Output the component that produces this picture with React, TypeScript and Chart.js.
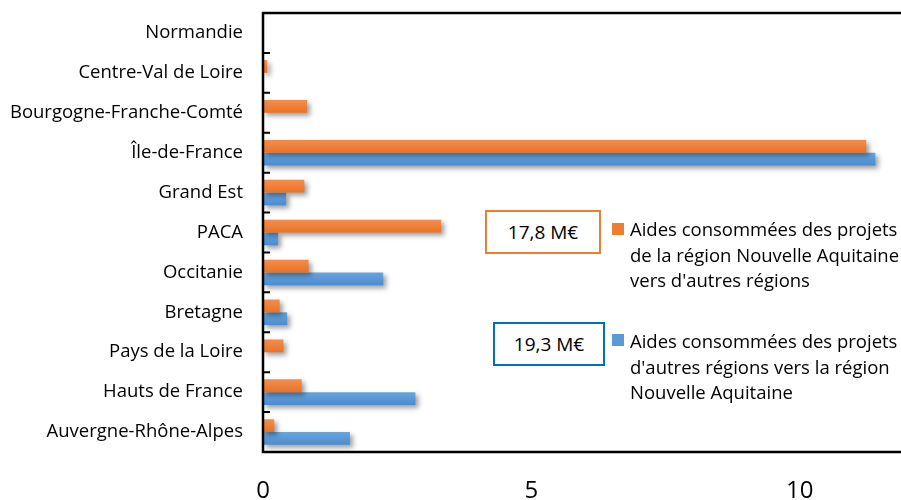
import React, { useEffect, useRef } from "react";
import { Chart, registerables } from "chart.js";

Chart.register(...registerables);

const categories = [
  "Normandie",
  "Centre-Val de Loire",
  "Bourgogne-Franche-Comté",
  "Île-de-France",
  "Grand Est",
  "PACA",
  "Occitanie",
  "Bretagne",
  "Pays de la Loire",
  "Hauts de France",
  "Auvergne-Rhône-Alpes",
];

const versAutres = [0, 0.08, 0.82, 11.24, 0.77, 3.32, 0.85, 0.31, 0.38, 0.72, 0.21];
const versNA = [0, 0, 0, 11.41, 0.43, 0.28, 2.24, 0.45, 0, 2.84, 1.62];

const seriesLabels = [
  "Aides consommées des projets de la région Nouvelle Aquitaine vers d'autres régions",
  "Aides consommées des projets d'autres régions vers la région Nouvelle Aquitaine",
];
const totals = ["17,8 M€", "19,3 M€"];
const xTicks = [0, 5, 10];

const FONT = "'Open Sans', Lato, sans-serif";
const CAT_PCT = 0.64;

function makeGradient(top: string, bottom: string) {
  return (c: any) => {
    const chart = c.chart;
    const y = chart.scales?.y;
    if (!y || c.dataIndex === undefined || !chart.chartArea) return bottom;
    const center = y.getPixelForValue(c.dataIndex);
    const band = Math.abs(y.getPixelForValue(1) - y.getPixelForValue(0));
    const thick = (band * CAT_PCT) / 2;
    const t = center - thick + c.datasetIndex * thick;
    if (!isFinite(t) || !isFinite(thick) || thick <= 0) return bottom;
    const g = chart.ctx.createLinearGradient(0, t, 0, t + thick);
    g.addColorStop(0, top);
    g.addColorStop(1, bottom);
    return g;
  };
}

const shadowPlugin = {
  id: "shadowPlugin",
  beforeDatasetsDraw(chart: any) {
    const ctx = chart.ctx;
    ctx.save();
    ctx.shadowColor = "rgba(0,0,0,0.38)";
    ctx.shadowBlur = 5;
    ctx.shadowOffsetX = 3;
    ctx.shadowOffsetY = 3;
  },
  afterDatasetsDraw(chart: any) {
    chart.ctx.restore();
  },
};

const framePlugin = {
  id: "framePlugin",
  afterDraw(chart: any) {
    const { ctx, chartArea } = chart;
    const y = chart.scales.y;
    ctx.save();
    ctx.strokeStyle = "#000";
    ctx.lineWidth = 2.5;
    ctx.beginPath();
    ctx.moveTo(chartArea.left, chartArea.top);
    ctx.lineTo(chart.width, chartArea.top);
    ctx.moveTo(chartArea.left, chartArea.bottom);
    ctx.lineTo(chart.width, chartArea.bottom);
    ctx.moveTo(chartArea.left, chartArea.top - 1.25);
    ctx.lineTo(chartArea.left, chartArea.bottom + 1.25);
    ctx.stroke();
    ctx.lineWidth = 2;
    ctx.beginPath();
    const n = categories.length;
    for (let i = 1; i < n; i++) {
      const p = (y.getPixelForValue(i - 1) + y.getPixelForValue(i)) / 2;
      ctx.moveTo(chartArea.left, p);
      ctx.lineTo(chartArea.left + 7, p);
    }
    ctx.stroke();
    ctx.restore();
  },
};

export default function App() {
  const ref = useRef<HTMLCanvasElement | null>(null);

  useEffect(() => {
    if (!ref.current) return;
    const chart = new Chart(ref.current, {
      type: "bar",
      data: {
        labels: categories,
        datasets: [
          {
            label: seriesLabels[0],
            data: versAutres,
            backgroundColor: makeGradient("#F28E4F", "#EB7224"),
            categoryPercentage: CAT_PCT,
            barPercentage: 1,
          },
          {
            label: seriesLabels[1],
            data: versNA,
            backgroundColor: makeGradient("#68A5DC", "#4A8CD2"),
            categoryPercentage: CAT_PCT,
            barPercentage: 1,
          },
        ],
      },
      options: {
        indexAxis: "y",
        responsive: false,
        animation: false,
        layout: { padding: { top: 13, right: 3, left: 0, bottom: 0 } },
        plugins: {
          legend: { display: false },
          tooltip: { enabled: false },
        },
        scales: {
          x: {
            min: 0,
            max: 12,
            grid: { display: false, drawTicks: false },
            border: { display: false },
            afterBuildTicks: (s: any) => {
              s.ticks = xTicks.map((v) => ({ value: v }));
            },
            afterFit: (s: any) => {
              s.height = 68;
              s.paddingLeft = 0;
              s.paddingRight = 0;
            },
            ticks: {
              color: "#000",
              padding: 25,
              font: { family: FONT, size: 24 },
            },
          },
          y: {
            grid: { display: false, drawTicks: false },
            border: { display: false },
            afterFit: (s: any) => {
              s.width = 263;
              s.paddingTop = 0;
              s.paddingBottom = 0;
            },
            ticks: {
              color: "#000",
              padding: 20,
              font: { family: FONT, size: 18.5 },
            },
          },
        },
      },
      plugins: [shadowPlugin, framePlugin],
    });
    return () => chart.destroy();
  }, []);

  const legendText: React.CSSProperties = {
    position: "absolute",
    left: 630,
    fontFamily: FONT,
    fontSize: 18.5,
    lineHeight: "25.5px",
    color: "#000",
    whiteSpace: "nowrap",
  };
  const box = (color: string): React.CSSProperties => ({
    position: "absolute",
    border: `2px solid ${color}`,
    boxSizing: "border-box",
    display: "flex",
    alignItems: "center",
    justifyContent: "center",
    fontFamily: FONT,
    fontSize: 19,
    color: "#000",
    background: "#fff",
  });

  return (
    <div
      style={{
        position: "fixed",
        left: 0,
        top: 0,
        width: 901,
        height: 500,
        overflow: "hidden",
        background: "#fff",
      }}
    >
      <canvas ref={ref} width={910} height={520} style={{ position: "absolute", left: 0, top: 0 }} />
      <div style={{ ...box("#ED7D31"), left: 485, top: 210, width: 116, height: 44 }}>{totals[0]}</div>
      <div style={{ ...box("#0070C0"), left: 493, top: 322, width: 112, height: 44 }}>{totals[1]}</div>
      <div style={{ position: "absolute", left: 612, top: 223, width: 12, height: 12, background: "#ED7D31" }} />
      <div style={{ position: "absolute", left: 612, top: 334, width: 12, height: 12, background: "#5B9BD5" }} />
      <div style={{ ...legendText, top: 216 }}>
        Aides consommées des projets
        <br />
        de la région Nouvelle Aquitaine
        <br />
        vers d'autres régions
      </div>
      <div style={{ ...legendText, top: 328 }}>
        Aides consommées des projets
        <br />
        d'autres régions vers la région
        <br />
        Nouvelle Aquitaine
      </div>
    </div>
  );
}
